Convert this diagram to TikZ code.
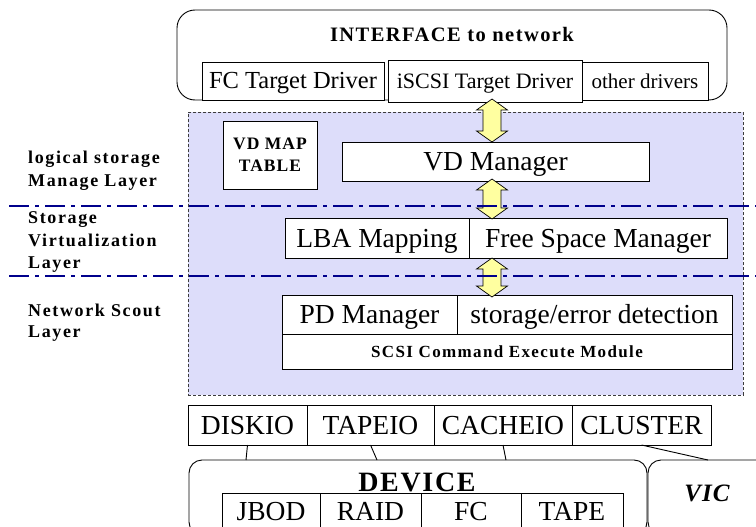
\documentclass[tikz,border=0pt]{standalone}
\usepackage{fontspec}
\setmainfont{Liberation Serif}
\definecolor{lav}{RGB}{221,221,250}
\definecolor{navyline}{RGB}{0,0,140}
\definecolor{ylw}{RGB}{255,255,160}
\definecolor{zoneborder}{RGB}{60,60,60}
\newcommand\fsz[2]{\fontsize{#1}{#2}\selectfont}
\newcommand\yarrow[3]{%
  \draw[yarr] (#1-9,#2+11) -- (#1-15.5,#2+11) -- (#1,#2) -- (#1+15.5,#2+11) -- (#1+9,#2+11)
   -- (#1+9,#3-11) -- (#1+15.5,#3-11) -- (#1,#3) -- (#1-15.5,#3-11) -- (#1-9,#3-11) -- cycle;}
\begin{document}
\begin{tikzpicture}[x=1pt,y=-1pt,
  box/.style={draw, line width=0.9pt, fill=white, inner sep=0pt, outer sep=0pt, anchor=north west},
  rbox/.style={draw, line width=0.9pt, inner sep=0pt, outer sep=0pt, anchor=north west},
  yarr/.style={draw=black, line width=0.7pt, fill=ylw},
  layerline/.style={navyline, line width=2.7pt, dash pattern=on 20pt off 6pt on 4pt off 6pt},
  lbl/.style={anchor=base west, inner sep=0pt, font=\fsz{18}{20}\bfseries\addfontfeature{LetterSpace=9}},
  big/.style={font=\fsz{27.5}{30}, text height=22pt, text depth=4pt},
  mid/.style={text height=19.6pt, text depth=3.6pt},
  sml/.style={text height=17.6pt, text depth=3.2pt},
  conn/.style={line width=0.9pt}]
\useasboundingbox (0,0) rectangle (756,527);
\clip (0,0) rectangle (756,527);

% interface
\node[rbox, rounded corners=18pt, minimum width=550, minimum height=90] (iface) at (177,10) {};
\node[font=\fsz{20.5}{22}\bfseries\addfontfeature{LetterSpace=7}] (ifacetitle) at (452,34) {INTERFACE to network};
\node[box, minimum width=182, minimum height=38, font=\fsz{24.5}{27}, mid] (fc) at (202,62) {FC Target Driver};
\node[box, minimum width=194, minimum height=42, font=\fsz{22}{25}, sml] (iscsi) at (388,60) {iSCSI Target Driver};
\node[box, minimum width=126, minimum height=38, font=\fsz{21}{24}, sml] (other) at (582,62) {other drivers};

% layer zone
\node[anchor=north west, draw=zoneborder, line width=0.8pt, dash pattern=on 3pt off 2pt, fill=lav,
      minimum width=555, minimum height=283, inner sep=0pt] (zone) at (188,112) {};

\node[box, minimum width=94, minimum height=68, align=center,
      font=\fsz{17.5}{22}\bfseries\addfontfeature{LetterSpace=6}] (vdmap) at (223,121) {VD MAP\\TABLE};
\node[box, minimum width=307, minimum height=39, big] (vdm) at (342,142) {VD Manager};
\node[box, minimum width=184, minimum height=40, big] (lba) at (285,218) {LBA Mapping};
\node[box, minimum width=258, minimum height=40, big] (fsm) at (469,218) {Free Space Manager};
\node[box, minimum width=175, minimum height=39, big] (pdm) at (282,295) {PD Manager};
\node[box, minimum width=275, minimum height=39, big] (sed) at (457,295) {storage/error detection};
\node[box, minimum width=450, minimum height=35,
      font=\fsz{17}{20}\bfseries\addfontfeature{LetterSpace=8}] (scsi) at (282,334) {SCSI Command Execute Module};

% block arrows
\yarrow{492}{99}{142}
\yarrow{492}{179}{219}
\yarrow{492}{258}{297}

% layer separators
\coordinate (s1a) at (9,206); \coordinate (s1b) at (756,206);
\coordinate (s2a) at (9,276); \coordinate (s2b) at (756,276);
\draw[layerline] (s1a) -- (s1b);
\draw[layerline] (s2a) -- (s2b);

% layer labels
\node[lbl] (l1a) at (28,164) {logical storage};
\node[lbl] (l1b) at (28,186) {Manage Layer};
\node[lbl] (l2a) at (28,223) {Storage};
\node[lbl] (l2b) at (28,246) {Virtualization};
\node[lbl] (l2c) at (28,268) {Layer};
\node[lbl] (l3a) at (28,316) {Network Scout};
\node[lbl] (l3b) at (28,337) {Layer};

% IO row
\node[box, minimum width=119, minimum height=40, big] (diskio) at (188,405) {DISKIO};
\node[box, minimum width=127, minimum height=40, big] (tapeio) at (307,405) {TAPEIO};
\node[box, minimum width=138, minimum height=40, big] (cacheio) at (434,405) {CACHEIO};
\node[box, minimum width=139, minimum height=40, big] (cluster) at (572,405) {CLUSTER};

% device & VIC
\node[rbox, rounded corners=13pt, minimum width=458, minimum height=75] (device) at (189,460) {};
\node[rbox, rounded corners=13pt, minimum width=130, minimum height=75] (vic) at (648,460) {};
\node[font=\fsz{28}{30}\bfseries\addfontfeature{LetterSpace=6}] (devtitle) at (417,482) {DEVICE};
\node[font=\fsz{25}{27}\bfseries\itshape\addfontfeature{LetterSpace=4}] (victitle) at (707,493) {VIC};
\node[box, minimum width=98, minimum height=36, big] (jbod) at (222,493) {JBOD};
\node[box, minimum width=101, minimum height=36, big] (raid) at (320,493) {RAID};
\node[box, minimum width=100, minimum height=36, big] (fcd) at (421,493) {FC};
\node[box, minimum width=102, minimum height=36, big] (tape) at (521,493) {TAPE};

% connectors
\coordinate (e1) at (246,460);
\coordinate (e2) at (377,460);
\coordinate (e3) at (506,460);
\coordinate (e4) at (708,460);
\draw[conn] (diskio.south) -- (e1);
\draw[conn] (tapeio.south) -- (e2);
\draw[conn] (cacheio.south) -- (e3);
\draw[conn] (cluster.south) -- (e4);
\end{tikzpicture}
\end{document}
